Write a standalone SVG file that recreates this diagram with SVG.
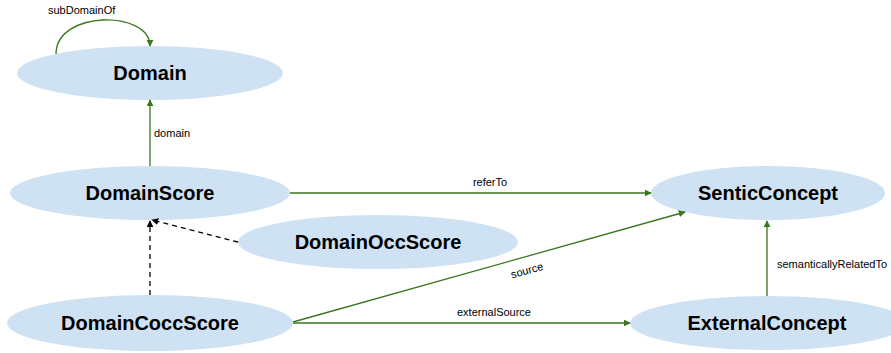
<svg xmlns="http://www.w3.org/2000/svg" width="891" height="353" viewBox="0 0 891 353">
  <defs>
    <marker id="arrGreen" viewBox="0 0 10 10" refX="9" refY="5" markerWidth="7" markerHeight="7" markerUnits="userSpaceOnUse" orient="auto">
      <path d="M0,0 L10,5 L0,10 z" fill="#38761d"/>
    </marker>
    <marker id="arrBlack" viewBox="0 0 10 10" refX="9" refY="5" markerWidth="7" markerHeight="7" markerUnits="userSpaceOnUse" orient="auto">
      <path d="M0,0 L10,5 L0,10 z" fill="#000"/>
    </marker>
  </defs>
  <style>
    .node { fill: #cfe2f3; stroke: none; }
    .nlabel { font-family: "Liberation Sans", Arial, sans-serif; font-size: 20px; font-weight: bold; fill: #000; text-anchor: middle; }
    .elabel { font-family: "Liberation Sans", Arial, sans-serif; font-size: 11px; fill: #000; }
    .rel { fill: none; stroke: #38761d; stroke-width: 1.3; marker-end: url(#arrGreen); }
    .sub { fill: none; stroke: #000; stroke-width: 1.3; stroke-dasharray: 5 4; marker-end: url(#arrBlack); }
  </style>
  <rect width="891" height="353" fill="#fff"/>

  <g id="n-domain">
    <ellipse class="node" cx="150" cy="73" rx="133" ry="27"/>
    <text class="nlabel" x="150" y="80">Domain</text>
  </g>
  <g id="n-domainscore">
    <ellipse class="node" cx="150" cy="193" rx="140" ry="27"/>
    <text class="nlabel" x="150" y="200">DomainScore</text>
  </g>
  <g id="n-domainoccscore">
    <ellipse class="node" cx="378" cy="242" rx="140" ry="27"/>
    <text class="nlabel" x="378" y="249">DomainOccScore</text>
  </g>
  <g id="n-domaincoccscore">
    <ellipse class="node" cx="150" cy="323" rx="143" ry="28"/>
    <text class="nlabel" x="150" y="330">DomainCoccScore</text>
  </g>
  <g id="n-senticconcept">
    <ellipse class="node" cx="768" cy="193" rx="117" ry="27"/>
    <text class="nlabel" x="768" y="200">SenticConcept</text>
  </g>
  <g id="n-externalconcept">
    <ellipse class="node" cx="768" cy="323" rx="138" ry="27"/>
    <text class="nlabel" x="767" y="330">ExternalConcept</text>
  </g>

  <g id="connectors">
    <path class="rel" d="M56,54 C56,10 150,10 150,46"/>
    <text class="elabel" x="48" y="14">subDomainOf</text>

    <path class="rel" d="M150,166 L150,100"/>
    <text class="elabel" x="154" y="137">domain</text>

    <path class="rel" d="M290,193 L651,193"/>
    <text class="elabel" x="490" y="186" text-anchor="middle">referTo</text>

    <path class="sub" d="M238,242 L152,220"/>
    <path class="sub" d="M150,295 L150,221"/>

    <path class="rel" d="M293,322 L685,212"/>
    <text class="elabel" x="528" y="274" text-anchor="middle" transform="rotate(-15.7 528 274)">source</text>

    <path class="rel" d="M293,323 L630,323"/>
    <text class="elabel" x="494" y="316" text-anchor="middle">externalSource</text>

    <path class="rel" d="M767,296 L767,221"/>
    <text class="elabel" x="777" y="268">semanticallyRelatedTo</text>
  </g>
</svg>
